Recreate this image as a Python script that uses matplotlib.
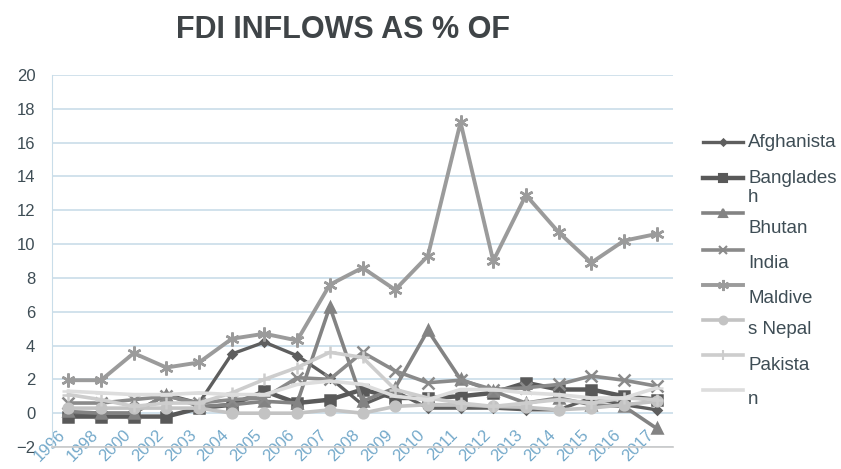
import matplotlib
matplotlib.use("Agg")
import matplotlib.pyplot as plt
from matplotlib.lines import Line2D

plt.rcParams['font.family'] = ['Liberation Sans', 'DejaVu Sans']

years = ["1996", "1998", "2000", "2002", "2003", "2004", "2005", "2006", "2007", "2008",
         "2009", "2010", "2011", "2012", "2013", "2014", "2015", "2016", "2017"]

afghanistan = [0.0, 0.0, 0.0, 1.1, 0.6, 3.5, 4.2, 3.4, 2.1, 0.5, 1.3, 0.3, 0.3, 0.3, 0.2, 0.2, 0.9, 0.5, 0.2]
bangladesh = [-0.2, -0.2, -0.2, -0.2, 0.3, 0.5, 1.3, 0.6, 0.8, 1.4, 0.9, 0.9, 1.0, 1.2, 1.8, 1.4, 1.4, 1.0, 0.8]
bhutan = [0.1, 0.0, 0.0, 1.1, 0.4, 0.5, 0.7, 0.6, 6.3, 0.7, 1.5, 4.9, 2.0, 1.3, 0.6, 0.9, 0.5, 0.4, -0.9]
india = [0.6, 0.6, 0.8, 1.0, 0.6, 0.8, 0.9, 2.1, 2.0, 3.6, 2.5, 1.8, 1.95, 1.4, 1.5, 1.7, 2.2, 1.95, 1.6]
maldives = [1.95, 1.95, 3.55, 2.7, 3.0, 4.4, 4.7, 4.3, 7.6, 8.6, 7.3, 9.3, 17.2, 9.0, 12.9, 10.7, 8.9, 10.2, 10.6]
nepal = [0.3, 0.3, 0.3, 0.3, 0.3, 0.0, 0.0, 0.0, 0.2, 0.0, 0.4, 0.5, 0.5, 0.4, 0.35, 0.2, 0.3, 0.5, 0.7]
pakistan = [1.1, 0.8, 0.4, 0.6, 0.6, 1.2, 2.0, 2.7, 3.6, 3.3, 1.4, 0.9, 0.6, 0.4, 0.6, 0.8, 0.6, 0.9, 0.8]
srilanka = [1.3, 1.2, 1.1, 1.1, 1.2, 1.1, 1.1, 1.7, 1.9, 1.7, 1.0, 0.8, 1.4, 1.4, 1.2, 1.1, 0.9, 0.9, 1.5]

series = [
    (afghanistan, '#5e5e5e', 'D', 4, 2.4),
    (bangladesh, '#595959', 's', 7, 3.2),
    (bhutan, '#838383', '^', 7, 2.6),
    (india, '#8a8a8a', 'x', 8, 2.6),
    (maldives, '#9b9b9b', (6, 2, 0), 10, 2.8),
    (nepal, '#c3c3c3', 'o', 7, 2.6),
    (pakistan, '#cdcdcd', '+', 9, 2.6),
    (srilanka, '#dddddd', '_', 9, 2.6),
]

W, H = 841, 469
fig = plt.figure(figsize=(W / 100, H / 100), dpi=100)
ax = fig.add_axes([52 / W, 1 - 447 / H, (673 - 52) / W, (447 - 75) / H])

x = list(range(len(years)))
for vals, col, mk, ms, lw in series:
    ax.plot(x, vals, color=col, marker=mk, markersize=ms, linewidth=lw,
            markeredgewidth=1.8, markerfacecolor=col, markeredgecolor=col)

ax.set_xlim(-0.5, len(years) - 0.5)
ax.set_ylim(-2, 20)
ax.set_yticks(range(-2, 21, 2))
ax.yaxis.grid(True, color='#c9dde9', linewidth=1.2)
ax.set_axisbelow(True)
for s in ['top', 'right']:
    ax.spines[s].set_visible(False)
ax.spines['left'].set_color('#c9dde9')
ax.spines['bottom'].set_color('#c8c8c8')
ax.spines['bottom'].set_linewidth(1.2)
ax.tick_params(axis='both', length=0)
ax.tick_params(axis='y', labelsize=12, labelcolor='#3e4d55', pad=12)
ax.set_xticks(x)
ax.set_xticklabels(years, rotation=45, ha='right', fontsize=12, color='#74a9ca')
ax.tick_params(axis='x', pad=-14)

fig.text(343 / W, 1 - 30 / H, "FDI INFLOWS AS % OF", ha='center', va='center',
         fontsize=22, fontweight='bold', color='#3f4447')

# legend (manual, mimicking reference layout)
handle_y = [142, 178, 213, 250, 285, 320, 355, 390]
for (vals, col, mk, ms, lw), hy in zip(series, handle_y):
    fy = 1 - hy / H
    fig.add_artist(Line2D([703 / W, 743 / W], [fy, fy], transform=fig.transFigure,
                          color=col, linewidth=lw))
    fig.add_artist(Line2D([723 / W], [fy], transform=fig.transFigure, color=col,
                          marker=mk, markersize=ms * 0.8, markeredgewidth=1.5,
                          markerfacecolor=col, markeredgecolor=col, linestyle='none'))

legend_texts = [("Afghanista", 142), ("Banglades", 178), ("h", 197), ("Bhutan", 228),
                ("India", 263), ("Maldive", 298), ("s Nepal", 330), ("Pakista", 365), ("n", 400)]
for t, ty in legend_texts:
    fig.text(748 / W, 1 - ty / H, t, ha='left', va='center', fontsize=13.5, color='#3e4d55')

fig.savefig("out.png", dpi=100)
